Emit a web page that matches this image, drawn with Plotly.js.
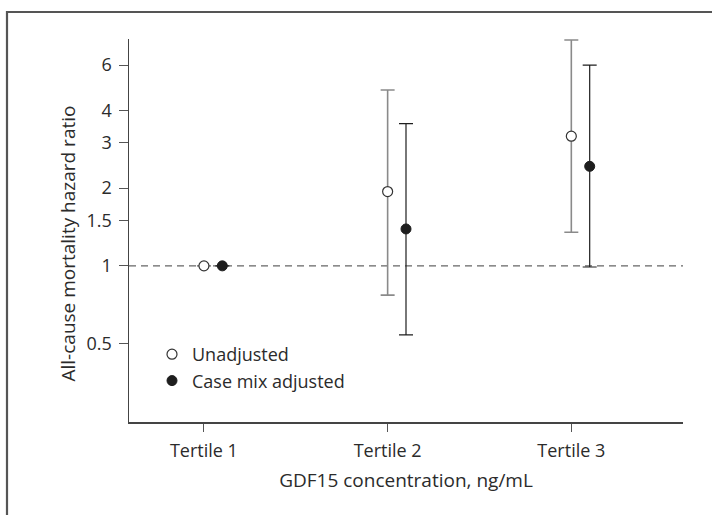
<!DOCTYPE html>
<html>
<head>
<meta charset="utf-8">
<script src="https://cdn.plot.ly/plotly-3.0.1.min.js"></script>
<style>
  html, body { margin: 0; padding: 0; background: #fff; }
  #chart { width: 712px; height: 515px; }
</style>
</head>
<body>
<div id="chart"></div>
<script>
// ---- data ----
const categories = ["Tertile 1", "Tertile 2", "Tertile 3"];
const unadjustedHR    = [1.0, 1.94, 3.18];
const unadjustedLower = [1.0, 0.77, 1.35];
const unadjustedUpper = [1.0, 4.80, 7.50];
const adjustedHR      = [1.0, 1.39, 2.43];
const adjustedLower   = [1.0, 0.54, 0.99];
const adjustedUpper   = [1.0, 3.56, 6.00];
const yTickVals   = [0.5, 1, 1.5, 2, 3, 4, 6];
const yTickLabels = ["0.5", "1", "1.5", "2", "3", "4", "6"];
const seriesNames = ["Unadjusted", "Case mix adjusted"];
const xTitle = "GDF15 concentration, ng/mL";
const yTitle = "All-cause mortality hazard ratio";

const FONT = "Open Sans, Noto Sans, DejaVu Sans, sans-serif";
const TXT = "#2b2b2b";
const idx = categories.map((c, i) => i);
const shift = 0.1;

const traceUnadj = {
  type: "scatter", mode: "markers", name: seriesNames[0],
  x: idx, y: unadjustedHR,
  error_y: {
    type: "data", symmetric: false,
    array: unadjustedUpper.map((u, i) => u - unadjustedHR[i]),
    arrayminus: unadjustedHR.map((v, i) => v - unadjustedLower[i]),
    color: "#8a8a8a", thickness: 1.6, width: 7
  },
  marker: { symbol: "circle", size: 10, color: "#ffffff", line: { color: "#333333", width: 1.2 } },
  hoverinfo: "skip"
};
const traceAdj = {
  type: "scatter", mode: "markers", name: seriesNames[1],
  x: idx.map(i => i + shift), y: adjustedHR,
  error_y: {
    type: "data", symmetric: false,
    array: adjustedUpper.map((u, i) => u - adjustedHR[i]),
    arrayminus: adjustedHR.map((v, i) => v - adjustedLower[i]),
    color: "#1e1e1e", thickness: 1.2, width: 7
  },
  marker: { symbol: "circle", size: 10, color: "#1e1e1e", line: { color: "#1e1e1e", width: 1 } },
  hoverinfo: "skip"
};

const W = 712, H = 515;
const m = { l: 129, r: 29, t: 39, b: 93 };
const pw = W - m.l - m.r, ph = H - m.t - m.b;
const px = v => (v - m.l) / pw;      // pixel -> paper x
const py = v => (H - m.b - v) / ph;  // pixel -> paper y

const layout = {
  width: W, height: H,
  margin: m,
  paper_bgcolor: "#ffffff", plot_bgcolor: "#ffffff",
  font: { family: FONT, size: 18, color: TXT },
  showlegend: true,
  legend: {
    x: px(152), y: py(336), xanchor: "left", yanchor: "top",
    bgcolor: "rgba(0,0,0,0)", font: { family: FONT, size: 18, color: TXT },
    itemclick: false, itemdoubleclick: false, tracegroupgap: 0
  },
  xaxis: {
    range: [-0.408, 2.608],
    tickmode: "array", tickvals: idx, ticktext: categories,
    showgrid: false, zeroline: false,
    showline: true, linecolor: "#444444", linewidth: 1.5,
    ticks: "outside", ticklen: 8, tickwidth: 1, tickcolor: "#555555",
    ticklabelstandoff: 4,
    tickfont: { family: FONT, size: 18, color: TXT },
    title: { text: xTitle, font: { family: FONT, size: 19, color: TXT }, standoff: 12 },
    fixedrange: true
  },
  yaxis: {
    type: "log",
    range: [-0.605, 0.879],
    tickmode: "array", tickvals: yTickVals, ticktext: yTickLabels,
    showgrid: false, zeroline: false,
    showline: true, linecolor: "#444444", linewidth: 1.5,
    ticks: "outside", ticklen: 9, tickwidth: 1, tickcolor: "#555555",
    ticklabelstandoff: 3,
    tickfont: { family: FONT, size: 18, color: TXT },
    fixedrange: true
  },
  annotations: [
    { text: yTitle, textangle: -90, xref: "paper", yref: "paper",
      x: px(67), y: py(243.5), xanchor: "center", yanchor: "middle",
      showarrow: false, font: { family: FONT, size: 19, color: TXT } }
  ],
  shapes: [
    { type: "line", xref: "paper", yref: "y", x0: 0, x1: 1, y0: 1, y1: 1,
      layer: "below", line: { color: "#666666", width: 1.4, dash: "7px,5px" } },
    { type: "line", xref: "paper", yref: "paper", x0: px(7), x1: px(7), y0: py(11), y1: py(520),
      line: { color: "#555555", width: 2.2 } },
    { type: "line", xref: "paper", yref: "paper", x0: px(6), x1: px(720), y0: py(12), y1: py(12),
      line: { color: "#555555", width: 2.2 } }
  ]
};

Plotly.newPlot("chart", [traceUnadj, traceAdj], layout, { staticPlot: true, displayModeBar: false });
</script>
</body>
</html>
